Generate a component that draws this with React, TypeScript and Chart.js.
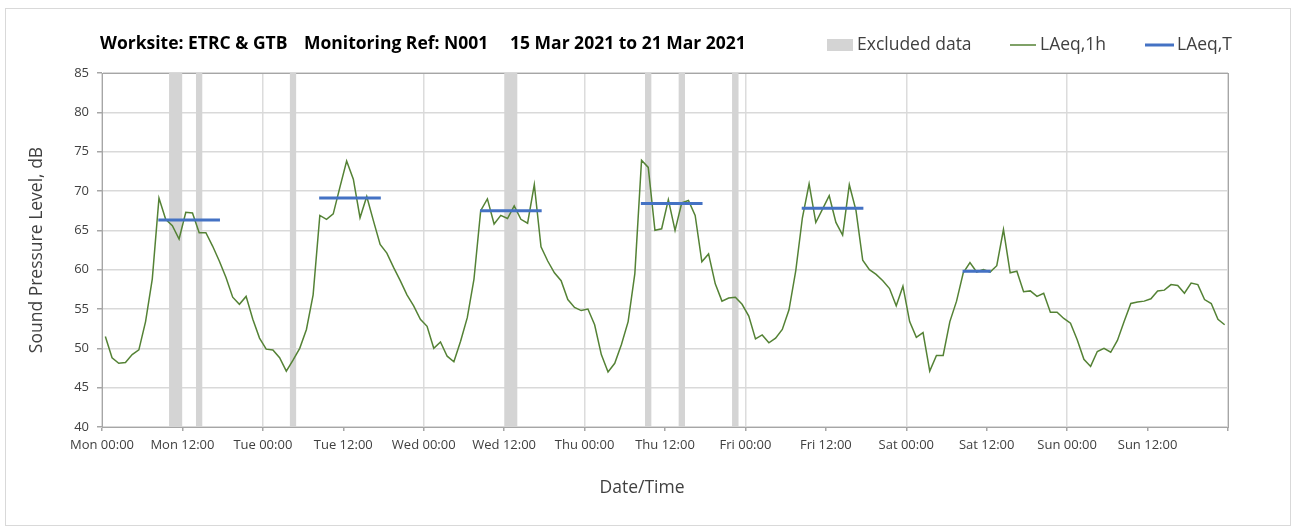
import React, { useEffect, useRef } from 'react';
import { Chart, registerables } from 'chart.js';

Chart.register(...registerables);

// Hourly LAeq,1h values, Mon 00:00 .. Sun 23:00 (plotted at the middle of each hour)
const laeq1h = [
  51.5, 48.8, 48.1, 48.2, 49.2, 49.8, 53.4, 58.8, 69.1, 66.4, 65.6, 63.9,
  67.3, 67.2, 64.7, 64.7, 63.0, 61.1, 59.0, 56.5, 55.6, 56.6, 53.7, 51.3,
  49.9, 49.8, 48.8, 47.1, 48.5, 50.0, 52.4, 56.8, 66.9, 66.4, 67.1, 70.5,
  73.8, 71.5, 66.6, 69.3, 66.2, 63.2, 62.1, 60.3, 58.6, 56.8, 55.4, 53.7,
  52.8, 50.0, 50.8, 49.0, 48.3, 50.9, 53.9, 58.8, 67.5, 69.0, 65.8, 66.9,
  66.5, 68.1, 66.4, 65.9, 70.8, 62.9, 61.1, 59.6, 58.6, 56.2, 55.2, 54.8,
  55.0, 53.0, 49.2, 47.0, 48.1, 50.5, 53.4, 59.5, 73.9, 73.0, 65.0, 65.2,
  68.9, 65.0, 68.5, 68.8, 66.9, 61.0, 62.0, 58.2, 56.0, 56.4, 56.5, 55.6,
  54.1, 51.2, 51.7, 50.7, 51.3, 52.4, 54.9, 59.8, 66.6, 70.9, 66.0, 67.7,
  69.4, 66.0, 64.4, 70.8, 67.5, 61.2, 60.0, 59.4, 58.6, 57.6, 55.4, 57.9,
  53.4, 51.4, 52.0, 47.1, 49.1, 49.1, 53.4, 56.0, 59.6, 60.9, 59.7, 60.0,
  59.7, 60.5, 65.1, 59.6, 59.8, 57.2, 57.3, 56.6, 57.0, 54.6, 54.6, 53.8,
  53.2, 51.1, 48.6, 47.7, 49.6, 50.0, 49.5, 51.0, 53.4, 55.7, 55.9, 56.0,
  56.3, 57.3, 57.4, 58.1, 58.0, 57.0, 58.3, 58.1, 56.2, 55.7, 53.7, 53.0,
];

// LAeq,T assessment periods (hours from Mon 00:00) and levels
const periodStart = [8.4, 32.4, 56.4, 80.4, 104.4, 128.4];
const periodEnd = [17.6, 41.6, 65.6, 89.6, 113.6, 132.6];
const periodLevel = [66.3, 69.1, 67.5, 68.4, 67.8, 59.8];

// Excluded data periods (hours from Mon 00:00)
const excludedStart = [10, 14, 28, 60, 81, 86, 94];
const excludedEnd = [12, 15, 29, 62, 82, 87, 95];

const dayNames = ['Mon', 'Tue', 'Wed', 'Thu', 'Fri', 'Sat', 'Sun'];
const tickTimes = ['00:00', '12:00'];

const titleParts = ['Worksite: ETRC & GTB', 'Monitoring Ref: N001', '15 Mar 2021 to 21 Mar 2021'];
const legendLabels = ['Excluded data', 'LAeq,1h', 'LAeq,T'];
const xTitle = 'Date/Time';
const yTitle = 'Sound Pressure Level, dB';

const FONT = '"Open Sans", "Noto Sans", sans-serif';
const GREEN = '#548235';
const BLUE = '#4472C4';
const GREY_BAR = '#d4d4d4';
const TEXT = '#404040';

export default function App() {
  const ref = useRef<HTMLCanvasElement | null>(null);

  useEffect(() => {
    if (!ref.current) return;

    const excludedSets = excludedStart.map((s, i) => ({
      type: 'line' as const,
      label: 'Excluded data',
      data: [
        { x: s, y: 85 },
        { x: excludedEnd[i], y: 85 },
      ],
      borderColor: 'rgba(0,0,0,0)',
      borderWidth: 0,
      backgroundColor: GREY_BAR,
      pointRadius: 0,
      fill: 'start',
    }));

    const blueData: { x: number; y: number | null }[] = [];
    periodStart.forEach((s, i) => {
      blueData.push({ x: s, y: periodLevel[i] });
      blueData.push({ x: periodEnd[i], y: periodLevel[i] });
      blueData.push({ x: periodEnd[i] + 0.01, y: null });
    });

    const decor = {
      id: 'decor',
      beforeDraw(chart: any) {
        const c = chart.ctx;
        c.save();
        c.fillStyle = '#ffffff';
        c.fillRect(0, 0, chart.width, chart.height);
        c.strokeStyle = '#d9d9d9';
        c.lineWidth = 1;
        c.strokeRect(5.5, 8.5, 1285, 517);
        c.restore();
      },
      beforeDatasetsDraw(chart: any) {
        const { left, right, top, bottom } = chart.chartArea;
        const c = chart.ctx;
        c.save();
        c.strokeStyle = '#a6a6a6';
        c.lineWidth = 1;
        c.strokeRect(Math.round(left) + 0.5, Math.round(top) + 0.5, Math.round(right - left), Math.round(bottom - top));
        c.restore();
      },
      afterDraw(chart: any) {
        const c = chart.ctx;
        c.save();
        // title
        c.fillStyle = '#000000';
        c.textBaseline = 'middle';
        c.font = `bold 17.5px ${FONT}`;
        const tx = [100, 304, 510];
        titleParts.forEach((t, i) => c.fillText(t, tx[i], 44));
        // legend
        const ly = 45;
        c.fillStyle = GREY_BAR;
        c.fillRect(827, ly - 6, 26, 12);
        c.strokeStyle = GREEN;
        c.lineWidth = 1.5;
        c.beginPath();
        c.moveTo(1010, ly);
        c.lineTo(1036, ly);
        c.stroke();
        c.strokeStyle = BLUE;
        c.lineWidth = 3;
        c.beginPath();
        c.moveTo(1145, ly);
        c.lineTo(1174, ly);
        c.stroke();
        c.font = `17.5px ${FONT}`;
        c.fillStyle = TEXT;
        const lx = [857, 1040, 1177];
        legendLabels.forEach((t, i) => c.fillText(t, lx[i], ly));
        // x axis title
        c.textAlign = 'center';
        c.fillText(xTitle, 642, 488);
        c.restore();
      },
    };

    const chart = new Chart(ref.current, {
      type: 'line',
      data: {
        datasets: [
          {
            label: 'LAeq,T',
            data: blueData,
            borderColor: BLUE,
            borderWidth: 3,
            pointRadius: 0,
            spanGaps: false,
            fill: false,
          },
          {
            label: 'LAeq,1h',
            data: laeq1h.map((v, i) => ({ x: i + 0.5, y: v })),
            borderColor: GREEN,
            borderWidth: 1.5,
            pointRadius: 0,
            tension: 0,
            fill: false,
          },
          ...excludedSets,
        ] as any,
      },
      options: {
        animation: false,
        responsive: false,
        events: [],
        layout: { padding: { left: 0, right: 73, top: 73, bottom: 0 } },
        plugins: {
          legend: { display: false },
          tooltip: { enabled: false },
          title: { display: false },
        },
        scales: {
          x: {
            type: 'linear',
            min: 0,
            max: 168,
            afterFit: (scale: any) => {
              scale.height = 100;
            },
            ticks: {
              stepSize: 12,
              autoSkip: false,
              maxRotation: 0,
              padding: 6,
              color: TEXT,
              font: { family: FONT, size: 13 },
              callback: (value: any) => {
                const v = Number(value);
                if (v >= 168) return '';
                return `${dayNames[Math.floor(v / 24)]} ${tickTimes[(v % 24) / 12]}`;
              },
            },
            grid: {
              color: (ctx: any) => (ctx.tick && ctx.tick.value % 24 === 0 ? '#dcdcdc' : 'rgba(0,0,0,0)'),
              lineWidth: 1.5,
              tickColor: '#a6a6a6',
              tickLength: 4,
            },
            border: { color: '#a6a6a6', width: 1 },
          },
          y: {
            min: 40,
            max: 85,
            afterFit: (scale: any) => {
              scale.width = 102;
            },
            ticks: {
              stepSize: 5,
              padding: 8,
              color: TEXT,
              font: { family: FONT, size: 13 },
            },
            grid: {
              color: '#d9d9d9',
              lineWidth: 1.5,
              tickColor: '#a6a6a6',
              tickLength: 5,
            },
            border: { color: '#a6a6a6', width: 1 },
            title: {
              display: true,
              text: yTitle,
              color: TEXT,
              font: { family: FONT, size: 17.5 },
              padding: { top: 27, bottom: 0 },
            },
          },
        },
      } as any,
      plugins: [decor],
    });

    return () => chart.destroy();
  }, []);

  return (
    <div style={{ position: 'absolute', left: 0, top: 0, width: 1301, height: 527 }}>
      <canvas ref={ref} width={1301} height={527} style={{ display: 'block' }} />
    </div>
  );
}
